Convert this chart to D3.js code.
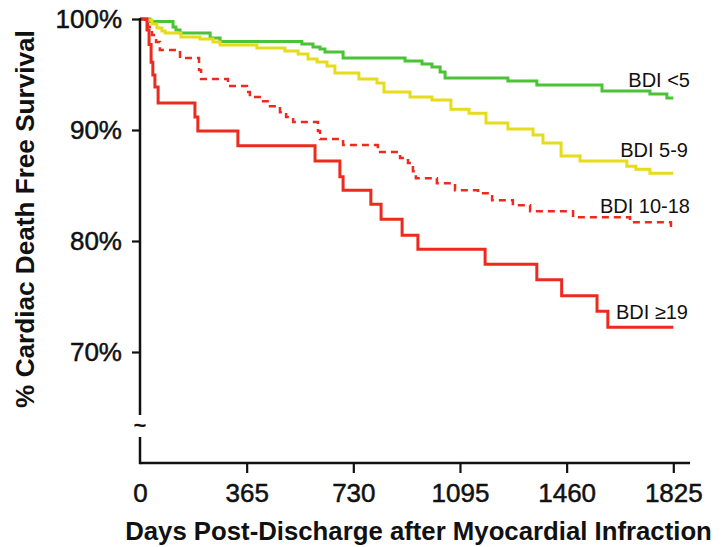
<!DOCTYPE html>
<html>
<head>
<meta charset="utf-8">
<script src="https://cdn.jsdelivr.net/npm/d3@7"></script>
<style>
  html, body { margin: 0; padding: 0; background: #fff; }
  svg { display: block; }
  text { font-family: "Liberation Sans", Arial, Helvetica, sans-serif; fill: #111; }
</style>
</head>
<body>
<svg id="chart" width="723" height="547"></svg>
<script>
// ---------------- DATA ----------------
const xTicks = [0, 365, 730, 1095, 1460, 1825];
const yTicks = [70, 80, 90, 100];
const groupNames = ["BDI <5", "BDI 5-9", "BDI 10-18", "BDI \u226519"];

// Kaplan-Meier steps: [day, % survival]
const bdiLt5 = [[0,100],[34,99.77],[113,99.28],[123,99.01],[137,98.74],[240,98.29],[274,97.97],[554,97.75],[592,97.48],[616,97.29],[633,97.02],[695,96.48],[907,96.21],[965,95.94],[999,95.67],[1027,95.22],[1044,94.68],[1259,94.41],[1358,94.05],[1581,93.51],[1745,93.24],[1803,92.88],[1825,92.88]];
const bdi5to9 = [[0,100],[24,99.91],[41,99.55],[58,99.19],[75,98.92],[86,98.74],[140,98.38],[205,98.20],[250,97.93],[274,97.66],[400,97.39],[496,97.11],[541,96.84],[575,96.39],[606,96.12],[640,95.76],[667,95.13],[749,94.59],[811,94.23],[835,93.42],[924,92.97],[999,92.70],[1064,91.88],[1126,91.52],[1184,90.62],[1259,90.08],[1345,89.54],[1379,88.82],[1441,87.65],[1506,87.20],[1666,86.74],[1697,86.47],[1745,86.11],[1825,86.11]];
const bdi10to18 = [[0,100],[17,99.73],[27,99.28],[41,98.56],[55,97.93],[68,97.20],[137,96.48],[202,95.40],[209,94.59],[301,93.96],[366,93.42],[376,92.97],[417,92.60],[445,92.15],[479,91.61],[500,91.16],[524,90.71],[609,89.90],[616,89.18],[695,88.64],[814,88.01],[890,87.47],[917,87.02],[934,86.29],[944,85.66],[1016,85.21],[1078,84.58],[1157,84.31],[1205,83.68],[1276,83.23],[1335,82.69],[1482,82.15],[1677,81.70],[1817,81.15],[1825,81.15]];
const bdiGe19 = [[0,100],[24,99.0],[31,97.7],[38,96.1],[44,94.95],[51,93.87],[62,92.43],[188,91.16],[198,89.9],[335,88.58],[599,87.2],[684,85.78],[695,84.58],[790,83.32],[825,81.97],[897,80.52],[951,79.26],[1181,77.91],[1358,76.51],[1443,75.07],[1564,73.67],[1601,72.23],[1825,72.23]];

// ---------------- LAYOUT ----------------
const svg = d3.select("#chart");
const x = d3.scaleLinear().domain([0, 1825]).range([140, 673.3]);
const y = d3.scaleLinear().domain([60, 100]).range([463, 19]);

const series = [
  { name: groupNames[0], data: bdiLt5,    color: "#4cc236", dash: null,  w: 3,   labelX: 690, labelY: 87 },
  { name: groupNames[1], data: bdi5to9,   color: "#e6dc1c", dash: null,  w: 3,   labelX: 688, labelY: 157 },
  { name: groupNames[2], data: bdi10to18, color: "#ec2a1e", dash: "7,5", w: 2.5, labelX: 690, labelY: 213 },
  { name: groupNames[3], data: bdiGe19,   color: "#ec2a1e", dash: null,  w: 3,   labelX: 688, labelY: 319 }
];

const line = d3.line()
  .x(d => x(d[0]))
  .y(d => y(d[1]))
  .curve(d3.curveStepAfter);

// curves
svg.append("g").selectAll("path")
  .data(series)
  .join("path")
  .attr("d", s => line(s.data))
  .attr("fill", "none")
  .attr("stroke", s => s.color)
  .attr("stroke-width", s => s.w)
  .attr("stroke-dasharray", s => s.dash)
  .attr("stroke-linejoin", "miter");

// labels
svg.append("g").selectAll("text")
  .data(series)
  .join("text")
  .attr("x", s => s.labelX)
  .attr("y", s => s.labelY)
  .attr("text-anchor", "end")
  .style("font-size", "20px")
  .text(s => s.name);

// ---------------- AXES ----------------
const axisColor = "#111";
const gx = svg.append("g").attr("transform", `translate(0,${y(60)})`)
  .call(d3.axisBottom(x).tickValues(xTicks).tickSize(10).tickPadding(11).tickFormat(d3.format("d")));
gx.select(".domain").attr("d", `M${x(0)},0H690`).attr("stroke", axisColor).attr("stroke-width", 2.5);
gx.selectAll(".tick line").attr("stroke", axisColor).attr("stroke-width", 2.2)
  .filter(d => d === 0).remove();
gx.selectAll(".tick text").style("font-size", "26px").attr("fill", "#111")
  .attr("stroke", "#111").attr("stroke-width", 0.5).attr("dy", "0.71em");

const gy = svg.append("g").attr("transform", `translate(${x(0)},0)`)
  .call(d3.axisLeft(y).tickValues(yTicks).tickSize(8).tickPadding(10).tickFormat(d => d + "%"));
gy.select(".domain").remove();
gy.selectAll(".tick line").attr("stroke", axisColor).attr("stroke-width", 2.2);
gy.selectAll(".tick text").style("font-size", "26px").attr("fill", "#111")
  .attr("stroke", "#111").attr("stroke-width", 0.5);

// broken y axis
gy.append("line").attr("x1", 0).attr("x2", 0).attr("y1", y(100) - 1).attr("y2", 415)
  .attr("stroke", axisColor).attr("stroke-width", 2.5);
gy.append("line").attr("x1", 0).attr("x2", 0).attr("y1", 437).attr("y2", y(60) + 1.2)
  .attr("stroke", axisColor).attr("stroke-width", 2.5);
gy.append("text").attr("x", 0).attr("y", 433).attr("text-anchor", "middle")
  .style("font-size", "22px").style("font-weight", "bold").text("~");

// axis titles
function fitText(sel, target) {
  const len = sel.node().getComputedTextLength();
  const fs = parseFloat(sel.style("font-size"));
  sel.style("font-size", (fs * target / len) + "px");
}
const xt = svg.append("text").attr("x", (125 + 712) / 2).attr("y", 540)
  .attr("text-anchor", "middle").style("font-size", "22px").style("font-weight", "bold")
  .text("Days Post-Discharge after Myocardial Infraction");
fitText(xt, 587);

const yt = svg.append("text").attr("transform", "translate(34,219) rotate(-90)")
  .attr("text-anchor", "middle").style("font-size", "22px").style("font-weight", "bold")
  .text("% Cardiac Death Free Survival");
fitText(yt, 378);
</script>
</body>
</html>
